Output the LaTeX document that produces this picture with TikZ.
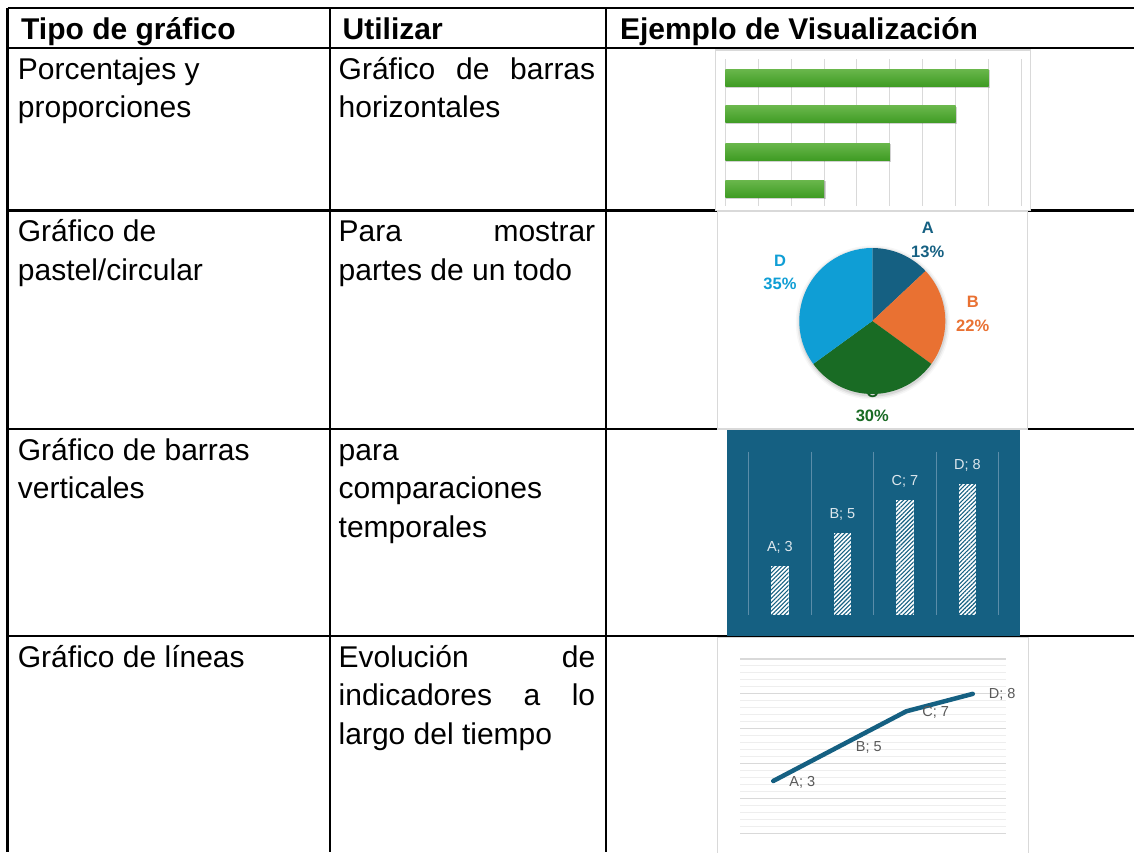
\documentclass[tikz,border=0pt]{standalone}
\usepackage{fontspec}
\setmainfont{Liberation Sans}
\usetikzlibrary{positioning,calc,patterns.meta}
\definecolor{accblue}{HTML}{156082}
\definecolor{accorange}{HTML}{E97132}
\definecolor{accgreen}{HTML}{196B24}
\definecolor{acccyan}{HTML}{0F9ED5}
\definecolor{barlight}{HTML}{6AB74C}
\definecolor{bardark}{HTML}{3F9C24}
\definecolor{gridgray}{HTML}{D9D9D9}
\definecolor{gridlight}{HTML}{EEEEEE}
\definecolor{labelgray}{HTML}{595959}
\definecolor{bluegrid}{HTML}{5B8DA9}
\definecolor{bluelabel}{HTML}{DDE7ED}
\newcommand\fillline[1]{\makebox[256.5pt][s]{#1}}
\tikzset{
  rule/.style={line width=2.3pt, black},
  cell/.style={anchor=north west, inner sep=0pt, align=left, font=\fontsize{30}{38.5}\selectfont},
  head/.style={cell, font=\fontsize{30}{38.5}\selectfont\bfseries},
  frame/.style={draw=gridgray, line width=1.5pt, fill=white},
  hbar/.style={top color=barlight, bottom color=bardark, draw=none},
  vbar/.style={pattern={Lines[angle=45,distance=3pt,line width=1.1pt]}, pattern color=accblue},
  pielabel/.style={align=center, inner sep=0pt, font=\fontsize{16.5}{23.4}\selectfont\bfseries},
  datalabel/.style={inner sep=0pt, font=\fontsize{14.5}{17}\selectfont},
}

\begin{document}
\begin{tikzpicture}[x=1pt,y=-1pt]
  \useasboundingbox[fill=white] (0,0) rectangle (1134,852);

  % table rules
  \draw[rule] (7.5,8) -- (1134,8);
  \foreach \y in {48,210.5,429,636}
    \draw[rule] (7.5,\y) -- (1134,\y);
  \foreach \x in {7.5,330,606}
    \draw[rule] (\x,8) -- (\x,852);

  % header
  \node[head] (tipo) at (21,12) {\strut Tipo de gráfico};
  \node[head] (uso) at (342.5,12) {\strut Utilizar};
  \node[head] (ejemplo) at (619.8,12) {\strut Ejemplo de Visualización};

  % rows
  \node[cell] (porc) at (17.7,52) {\strut Porcentajes y\\proporciones};
  \node[cell] (porcuso) at (338.5,52) {\strut\fillline{Gráfico de barras}\\horizontales};
  \node[cell] (pastel) at (17.7,214.5) {\strut Gráfico de\\pastel/circular};
  \node[cell] (pasteluso) at (338.5,214.5) {\strut\fillline{Para mostrar}\\partes de un todo};
  \node[cell] (barras) at (17.7,433) {\strut Gráfico de barras\\verticales};
  \node[cell] (barrasuso) at (338.5,433) {\strut para\\comparaciones\\temporales};
  \node[cell] (lineas) at (17.7,640) {\strut Gráfico de líneas};
  \node[cell] (lineasuso) at (338.5,640) {\strut\fillline{Evolución de}\\\fillline{indicadores a lo}\\largo del tiempo};

  % horizontal bars
  \draw[frame] (715.5,50) rectangle (1030.5,210.5);
  \foreach \k in {0,...,9}
    \draw[gridgray, line width=1pt] ({725.3+32.9*\k},59) -- ({725.3+32.9*\k},206);
  \foreach \v/\y in {8/77.5,7/114.3,5/151.5,3/188.5} {
    \fill[black, opacity=.18] (726.3,{\y-7.5}) rectangle ({726.8+32.9*\v},{\y+10});
    \shade[hbar] (725.3,{\y-8.5}) rectangle ({725.3+32.9*\v},{\y+8.5});
  }

  % pie
  \draw[frame] (717.3,211.7) rectangle (1027.7,429);
  \node[pielabel, text=accgreen] (pc) at (872.3,403.9) {C\\30\%};
  \begin{scope}[shift={(872.3,321)}, yscale=-1]
    \foreach \r/\o in {77/.03,75.5/.05,74/.08}
      \fill[black, opacity=\o] (0.5,-1.5) circle (\r);
    \fill[accblue] (0,0) -- (90:73) arc[start angle=90, end angle=43.2, radius=73] -- cycle;
    \fill[accorange] (0,0) -- (43.2:73) arc[start angle=43.2, end angle=-36, radius=73] -- cycle;
    \fill[accgreen] (0,0) -- (-36:73) arc[start angle=-36, end angle=-144, radius=73] -- cycle;
    \fill[acccyan] (0,0) -- (-144:73) arc[start angle=-144, end angle=-270, radius=73] -- cycle;
  \end{scope}
  \node[pielabel, text=accblue] (pa) at (927.7,240) {A\\13\%};
  \node[pielabel, text=accorange] (pb) at (972.7,313.9) {B\\22\%};
  \node[pielabel, text=acccyan] (pd) at (780,272.3) {D\\35\%};

  % vertical bars
  \fill[accblue] (727.3,430) rectangle (1020,636);
  \foreach \x in {748.7,811.2,873.7,936.2,998.7}
    \draw[bluegrid, line width=1pt] (\x,451.7) -- (\x,615);
  \foreach \n/\v/\c in {A/3/779.9,B/5/842.4,C/7/904.9,D/8/967.4} {
    \fill[white] ({\c-8.7},615) rectangle ({\c+8.7},{615-16.4*\v});
    \path[vbar] ({\c-8.7},615) rectangle ({\c+8.7},{615-16.4*\v});
    \node[datalabel, text=bluelabel] (v\n) at (\c,{615-16.4*\v-18.5}) {\n; \v};
  }

  % line chart
  \draw[frame] (717.7,637.3) rectangle (1028.3,870);
  \foreach \k in {0,...,25}
    \draw[gridlight, line width=1pt] (740,{659+6.97*\k}) -- (1006,{659+6.97*\k});
  \foreach \k in {0,...,5}
    \draw[gridgray, line width=1.2pt] (740,{659+34.85*\k}) -- (1006,{659+34.85*\k});
  \coordinate (la) at (773.25,780.98);
  \coordinate (lb) at (839.75,746.1);
  \coordinate (lc) at (906.25,711.3);
  \coordinate (ld) at (972.75,693.85);
  \draw[accblue, line width=4.5pt, line cap=round, line join=round] (la) -- (lb) -- (lc) -- (ld);
  \node[datalabel, text=labelgray, anchor=west] (lA) at ($(la)+(16,1)$) {A; 3};
  \node[datalabel, text=labelgray, anchor=west] (lB) at ($(lb)+(16,1)$) {B; 5};
  \node[datalabel, text=labelgray, anchor=west] (lC) at ($(lc)+(16,1)$) {C; 7};
  \node[datalabel, text=labelgray, anchor=west] (lD) at ($(ld)+(16,1)$) {D; 8};
\end{tikzpicture}
\end{document}
